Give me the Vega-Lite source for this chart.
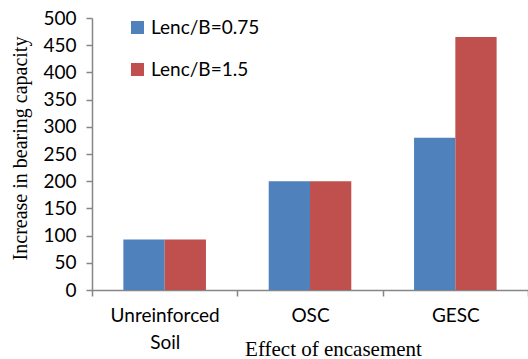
{
  "$schema": "https://vega.github.io/schema/vega-lite/v6.json",
  "width": 436,
  "height": 272,
  "autosize": {"type": "none"},
  "padding": {"left": 92, "top": 18, "right": 0, "bottom": 69},
  "background": "white",
  "config": {
    "view": {"stroke": null},
    "axis": {"domainColor": "#868686", "tickColor": "#868686", "grid": false, "labelColor": "#000000", "titleColor": "#000000", "labelFont": "Lato", "titleFont": "Liberation Serif", "titleFontWeight": "normal", "labelFontSize": 19, "titleFontSize": 20, "domainWidth": 1.5, "tickWidth": 1.5}
  },
  "data": {
    "values": [
      {"case": "Unreinforced Soil", "series": "Lenc/B=0.75", "value": 93},
      {"case": "Unreinforced Soil", "series": "Lenc/B=1.5", "value": 93},
      {"case": "OSC", "series": "Lenc/B=0.75", "value": 200},
      {"case": "OSC", "series": "Lenc/B=1.5", "value": 200},
      {"case": "GESC", "series": "Lenc/B=0.75", "value": 280},
      {"case": "GESC", "series": "Lenc/B=1.5", "value": 465}
    ]
  },
  "mark": {"type": "bar"},
  "encoding": {
    "x": {
      "field": "case",
      "type": "nominal",
      "sort": ["Unreinforced Soil", "OSC", "GESC"],
      "scale": {"paddingInner": 0, "paddingOuter": 0},
      "axis": {
        "title": "Effect of encasement",
        "titleFontSize": 21,
        "labelAngle": 0,
        "tickBand": "extent",
        "tickSize": 6,
        "labelPadding": 10,
        "labelLineHeight": 27,
        "labelBaseline": "top",
        "labelExpr": "datum.label == 'Unreinforced Soil' ? ['Unreinforced', 'Soil'] : datum.label",
        "titleX": 241,
        "titleY": 65,
        "titleBaseline": "alphabetic",
        "titleAnchor": "middle"
      }
    },
    "xOffset": {
      "field": "series",
      "type": "nominal",
      "scale": {"paddingInner": 0, "paddingOuter": 0.76}
    },
    "y": {
      "field": "value",
      "type": "quantitative",
      "scale": {"domain": [0, 500], "nice": false},
      "axis": {
        "title": "Increase in bearing capacity",
        "values": [0, 50, 100, 150, 200, 250, 300, 350, 400, 450, 500],
        "tickSize": 6,
        "labelPadding": 10,
        "titleX": -72,
        "titleY": 130,
        "titleBaseline": "middle",
        "titleAngle": -90,
        "titleAnchor": "middle"
      }
    },
    "color": {
      "field": "series",
      "type": "nominal",
      "scale": {"domain": ["Lenc/B=0.75", "Lenc/B=1.5"], "range": ["#4F81BD", "#C0504D"]},
      "legend": {
        "title": null,
        "orient": "none",
        "legendX": 36,
        "legendY": 0,
        "padding": 0,
        "symbolType": "square",
        "symbolSize": 169,
        "symbolStrokeWidth": 0,
        "labelFont": "Lato",
        "labelFontSize": 19,
        "labelColor": "#000000",
        "labelOffset": 4,
        "rowPadding": 22
      }
    }
  }
}
